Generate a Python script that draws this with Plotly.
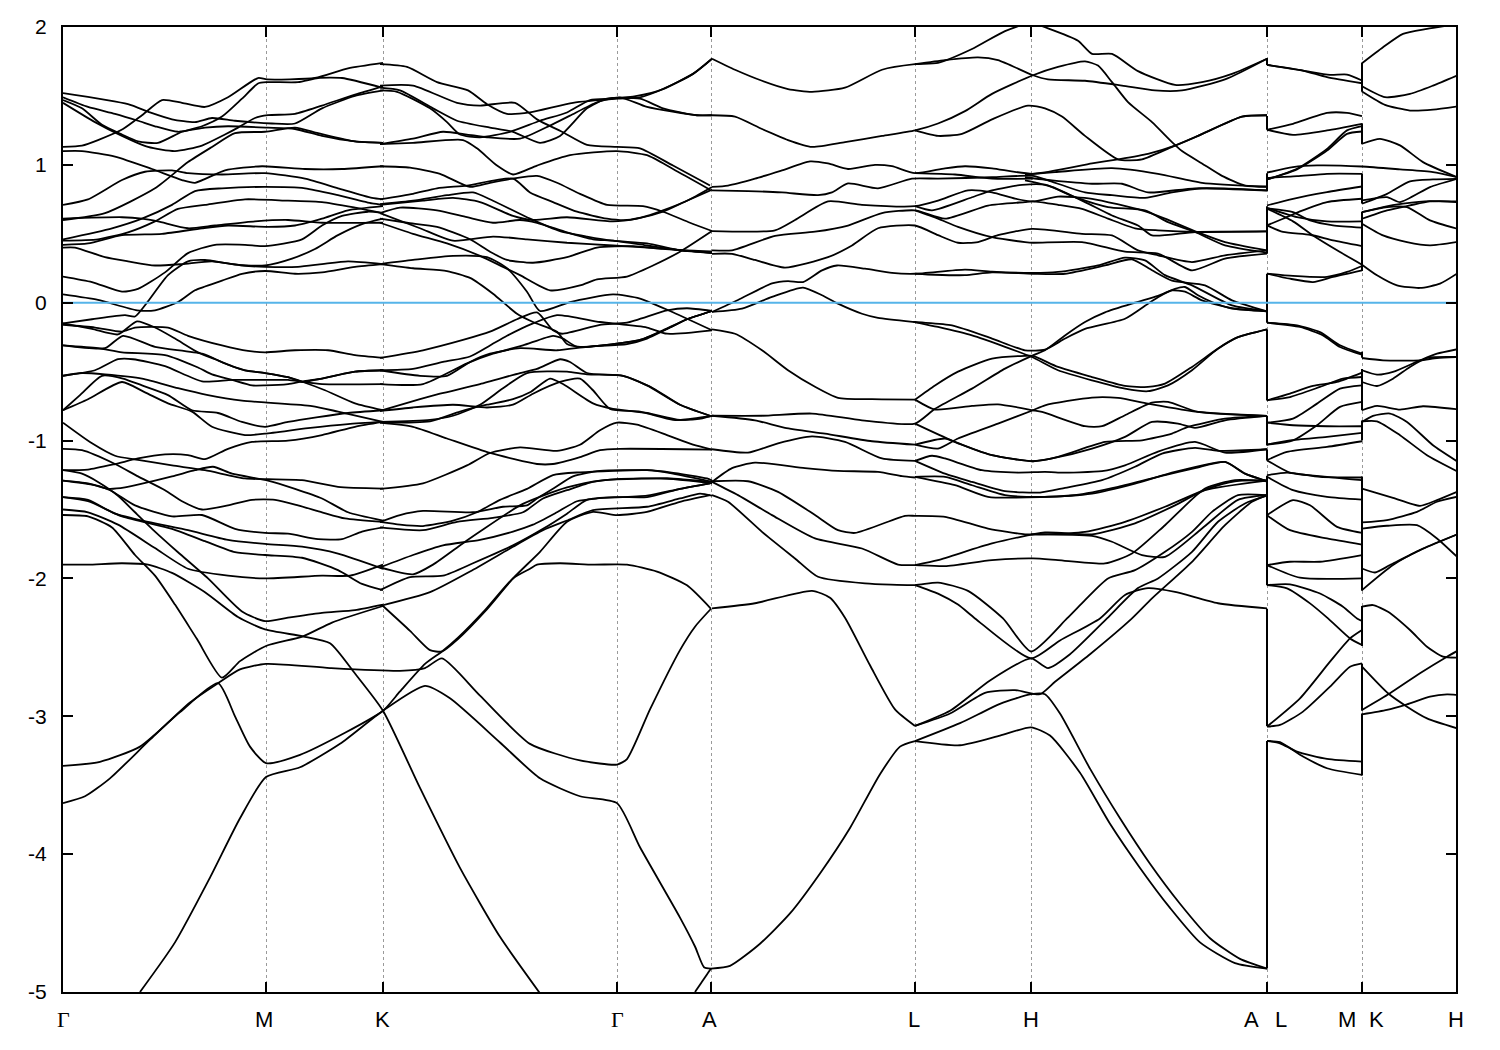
import plotly.graph_objects as go

# k = distance along the path, energies in eV
k_points = [63, 266, 383, 617, 711, 915, 1031, 1267, 1362, 1456]
energy_ticks = [-5, -4, -3, -2, -1, 0, 1, 2]
energy_labels = ["-5", "-4", "-3", "-2", "-1", "0", "1", "2"]
path_labels = [("Γ", 63), ("M", 264), ("K", 382), ("Γ", 617), ("A", 709), ("L", 914), ("H", 1031), ("A", 1251), ("L", 1281), ("M", 1347), ("K", 1376), ("H", 1456)]

bands_gamma_k = [
 [(63,1.13),(82,1.14),(98,1.18),(123,1.26),(142,1.36),(162,1.47),(182,1.45),(205,1.42),(228,1.49),(258,1.63),(267,1.62),(315,1.63),(348,1.70),(383,1.74)],
 [(63,1.52),(128,1.44),(150,1.38),(172,1.33),(195,1.31),(212,1.34),(235,1.32),(272,1.30),(295,1.30),(322,1.41),(355,1.50),(383,1.54)],
 [(63,1.49),(88,1.42),(115,1.37),(138,1.32),(155,1.28),(178,1.24),(205,1.27),(228,1.28),(268,1.27),(295,1.26),(322,1.21),(355,1.17),(383,1.16)],
 [(63,1.47),(82,1.41),(102,1.29),(122,1.22),(138,1.17),(158,1.16),(182,1.24),(202,1.28),(222,1.35),(242,1.48),(258,1.59),(267,1.60),(298,1.60),(318,1.63),(342,1.63),(382,1.56)],
 [(63,1.45),(95,1.31),(122,1.21),(148,1.13),(175,1.10),(202,1.14),(225,1.22),(238,1.27),(255,1.34),(268,1.36),(295,1.37),(322,1.43),(355,1.51),(383,1.57)],
 [(63,1.10),(82,1.10),(115,1.06),(152,.97),(182,.89),(195,.87),(225,.96),(262,.99),(305,.97),(342,.97),(383,.99)],
 [(63,.71),(88,.75),(122,.89),(145,.95),(172,.96),(188,.94),(222,.93),(265,.94),(305,.90),(338,.83),(372,.76),(383,.75)],
 [(63,.60),(105,.65),(155,.83),(188,1.02),(212,1.13),(235,1.23),(265,1.24),(295,1.27),(318,1.23),(355,1.17),(383,1.16)],
 [(63,.61),(122,.62),(142,.61),(158,.59),(188,.54),(215,.56),(255,.59),(288,.60),(322,.58),(383,.58)],
 [(63,.46),(112,.54),(142,.61),(172,.71),(195,.81),(222,.83),(265,.84),(305,.83),(338,.78),(372,.72),(383,.71)],
 [(63,.45),(98,.46),(128,.51),(155,.59),(178,.68),(205,.71),(245,.75),(288,.74),(322,.73),(355,.69),(383,.65)],
 [(63,.42),(88,.43),(122,.49),(162,.50),(202,.54),(228,.56),(268,.55),(295,.56),(322,.61),(348,.67),(383,.70)],
 [(63,.40),(75,.40),(105,.33),(128,.30),(155,.27),(182,.28),(212,.30),(242,.27),(265,.26),(298,.26),(322,.28),(348,.30),(383,.28)],
 [(63,.19),(92,.15),(122,.08),(138,.10),(165,.22),(188,.36),(215,.42),(245,.42),(265,.41),(302,.46),(322,.56),(342,.63),(368,.66),(383,.65)],
 [(63,-.15),(92,-.12),(125,-.09),(135,-.10),(148,.01),(168,.20),(188,.30),(205,.31),(232,.28),(265,.27),(292,.32),(315,.39),(338,.49),(362,.57),(383,.61)],
 [(63,.06),(98,.02),(137,-.055),(155,-.055),(178,.005),(195,.09),(222,.16),(242,.21),(265,.23),(295,.21),(322,.22),(355,.26),(383,.28)],
 [(63,-.15),(92,-.19),(118,-.23),(137,-.135),(155,-.18),(175,-.26),(198,-.36),(215,-.41),(232,-.46),(245,-.49),(265,-.51),(288,-.54),(303,-.575),(322,-.55),(355,-.50),(383,-.49)],
 [(63,-.16),(95,-.18),(122,-.21),(135,-.18),(168,-.18),(188,-.24),(222,-.31),(248,-.35),(265,-.36),(295,-.345),(328,-.345),(355,-.38),(383,-.40)],
 [(63,-.31),(105,-.33),(123,-.24),(155,-.32),(202,-.37),(228,-.45),(245,-.49),(265,-.51),(288,-.54),(303,-.575),(325,-.635),(355,-.73),(383,-.78)],
 [(63,-.31),(98,-.33),(122,-.36),(165,-.38),(198,-.47),(212,-.52),(232,-.56),(252,-.60),(265,-.60),(288,-.59),(303,-.57),(322,-.55),(355,-.50),(383,-.49)],
 [(63,-.53),(95,-.49),(118,-.41),(133,-.41),(165,-.46),(202,-.57),(232,-.56),(265,-.56),(288,-.56),(303,-.575),(322,-.59),(383,-.59)],
 [(63,-.53),(82,-.51),(105,-.52),(142,-.55),(178,-.62),(208,-.67),(242,-.71),(267,-.725),(312,-.75),(338,-.79),(383,-.865)],
 [(63,-.78),(80,-.67),(102,-.53),(123,-.55),(142,-.60),(168,-.67),(192,-.78),(218,-.80),(242,-.865),(265,-.90),(288,-.865),(318,-.83),(348,-.80),(383,-.78)],
 [(63,-.78),(88,-.70),(122,-.575),(145,-.65),(168,-.73),(192,-.79),(212,-.90),(245,-.96),(265,-.95),(308,-.91),(348,-.88),(383,-.865)],
 [(63,-.87),(92,-1.02),(115,-1.11),(138,-1.14),(172,-1.18),(205,-1.215),(245,-1.275),(268,-1.28),(302,-1.287),(338,-1.336),(383,-1.348)],
 [(63,-1.215),(88,-1.21),(115,-1.17),(138,-1.13),(165,-1.10),(188,-1.105),(205,-1.135),(228,-1.06),(252,-1.01),(288,-1.0),(322,-.96),(355,-.90),(383,-.865)],
 [(63,-1.06),(82,-1.07),(115,-1.17),(138,-1.26),(165,-1.36),(182,-1.44),(202,-1.50),(228,-1.47),(252,-1.43),(275,-1.43),(298,-1.47),(322,-1.52),(345,-1.565),(383,-1.59)],
 [(63,-1.29),(92,-1.32),(108,-1.35),(125,-1.34),(172,-1.26),(195,-1.215),(213,-1.19),(232,-1.24),(268,-1.29),(295,-1.35),(322,-1.42),(348,-1.52),(383,-1.58)],
 [(63,-1.29),(88,-1.31),(110,-1.36),(135,-1.47),(172,-1.55),(202,-1.54),(235,-1.64),(265,-1.67),(288,-1.675),(318,-1.715),(342,-1.715),(362,-1.66),(383,-1.63)],
 [(63,-1.215),(82,-1.24),(98,-1.30),(118,-1.40),(135,-1.52),(155,-1.66),(178,-1.81),(208,-2.0),(242,-2.24),(265,-2.31),(288,-2.285),(322,-2.25),(355,-2.23),(383,-2.19)],
 [(63,-1.41),(88,-1.43),(115,-1.53),(148,-1.59),(188,-1.65),(228,-1.72),(265,-1.75),(302,-1.77),(338,-1.82),(383,-1.93)],
 [(63,-1.41),(88,-1.44),(122,-1.55),(172,-1.64),(205,-1.73),(235,-1.81),(265,-1.83),(302,-1.85),(338,-1.94),(362,-2.04),(383,-2.085)],
 [(63,-1.50),(88,-1.52),(118,-1.61),(155,-1.78),(188,-1.93),(228,-1.98),(265,-2.0),(322,-1.98),(350,-1.98),(383,-1.90)],
 [(63,-1.54),(88,-1.55),(112,-1.63),(135,-1.83),(155,-1.98),(175,-2.19),(197,-2.44),(222,-2.72),(240,-2.60),(266,-2.49),(303,-2.42),(332,-2.32),(383,-2.20)],
 [(63,-1.90),(88,-1.90),(122,-1.89),(148,-1.90),(172,-1.96),(205,-2.10),(238,-2.28),(265,-2.37),(303,-2.42),(330,-2.47),(355,-2.69),(383,-2.96),(420,-3.52),(460,-4.1),(500,-4.6),(540,-5.01)],
 [(63,-3.36),(100,-3.33),(140,-3.22),(180,-2.97),(218,-2.76),(235,-3.0),(250,-3.22),(266,-3.34),(300,-3.28),(345,-3.12),(383,-2.96),(400,-2.82),(425,-2.62),(442,-2.53),(458,-2.43),(485,-2.23),(513,-2.0),(530,-1.93),(537,-1.90),(560,-1.89),(593,-1.90),(627,-1.90),(657,-1.95),(687,-2.05),(711,-2.22)],
 [(63,-3.63),(85,-3.58),(110,-3.45),(150,-3.17),(190,-2.9),(218,-2.76),(240,-2.66),(266,-2.62),(330,-2.65),(400,-2.67),(425,-2.65),(442,-2.58),(480,-2.85),(530,-3.2),(580,-3.32),(617,-3.35),(627,-3.31),(650,-2.95),(680,-2.52),(695,-2.35),(711,-2.22)],
 [(140,-5.0),(175,-4.64),(210,-4.17),(240,-3.74),(266,-3.44),(300,-3.37),(340,-3.2),(383,-2.96),(425,-2.78),(450,-2.87),(500,-3.19),(540,-3.45),(580,-3.58),(617,-3.63),(640,-3.95),(680,-4.46),(695,-4.67),(704,-4.82),(711,-4.83)],
 [(695,-5.0),(711,-4.83)],
]

bands_k_a = [
 [(380,1.73),(407,1.71),(437,1.60),(468,1.54),(487,1.44),(507,1.37),(530,1.38),(573,1.45),(617,1.48),(640,1.49),(663,1.55),(693,1.66),(712,1.77)],
 [(380,1.575),(413,1.575),(457,1.45),(480,1.43),(515,1.45),(537,1.33),(562,1.24),(587,1.145),(617,1.13),(640,1.12),(673,.995),(710,.85)],
 [(380,1.56),(400,1.54),(433,1.41),(457,1.32),(490,1.27),(513,1.24),(540,1.16),(560,1.21),(587,1.41),(607,1.48),(640,1.48),(663,1.41),(697,1.36),(712,1.36)],
 [(380,1.54),(397,1.53),(430,1.41),(447,1.31),(460,1.22),(480,1.20),(510,1.24),(540,1.32),(567,1.38),(590,1.47),(613,1.48),(637,1.50),(663,1.55),(693,1.66),(712,1.77)],
 [(380,1.15),(413,1.19),(443,1.24),(467,1.22),(487,1.20),(520,1.19),(550,1.285),(570,1.357),(597,1.454),(620,1.49),(647,1.42),(697,1.36),(712,1.36)],
 [(380,1.15),(413,1.16),(463,1.18),(477,1.12),(497,.995),(513,.93),(537,.995),(570,1.07),(617,1.10),(647,1.07),(673,.97),(710,.82)],
 [(380,.99),(410,.98),(440,.935),(470,.84),(490,.87),(513,.90),(537,.92),(557,.87),(580,.79),(607,.71),(643,.70),(663,.66),(690,.58),(712,.52)],
 [(380,.75),(413,.79),(437,.83),(467,.85),(513,.90),(530,.80),(553,.73),(577,.66),(607,.61),(627,.60),(647,.63),(663,.67),(687,.74),(712,.84)],
 [(380,.715),(413,.74),(447,.78),(473,.80),(493,.74),(530,.61),(560,.52),(587,.48),(613,.45),(647,.43),(680,.38),(712,.37)],
 [(380,.71),(423,.74),(453,.76),(480,.73),(513,.63),(533,.60),(567,.62),(613,.59),(637,.61),(663,.66),(687,.74),(712,.82)],
 [(380,.65),(400,.69),(437,.67),(467,.62),(493,.58),(520,.60),(537,.58),(567,.51),(593,.46),(613,.45),(647,.415),(680,.38),(712,.36)],
 [(380,.61),(407,.58),(437,.55),(470,.46),(490,.37),(507,.31),(533,.29),(567,.33),(597,.40),(633,.41),(663,.39),(712,.37)],
 [(380,.65),(420,.54),(453,.45),(493,.48),(527,.46),(567,.435),(613,.415),(667,.39),(712,.36)],
 [(380,.58),(413,.50),(447,.43),(480,.34),(503,.26),(520,.20),(550,.09),(580,.125),(597,.17),(627,.19),(653,.27),(680,.37),(712,.52)],
 [(380,.28),(413,.31),(453,.34),(487,.33),(507,.25),(527,.08),(540,-.06),(570,.005),(613,.06),(640,.03),(670,-.06),(712,-.2)],
 [(380,.28),(413,.25),(447,.23),(470,.18),(493,.065),(517,-.08),(533,-.14),(557,-.21),(567,-.30),(580,-.32),(613,-.30),(640,-.27),(663,-.2),(687,-.12),(712,-.06)],
 [(380,-.40),(423,-.345),(463,-.27),(490,-.21),(517,-.12),(537,-.07),(553,-.20),(562,-.225),(600,-.16),(627,-.145),(667,-.056),(687,-.04),(712,-.06)],
 [(380,-.49),(413,-.48),(443,-.43),(470,-.39),(490,-.31),(507,-.24),(533,-.15),(557,-.09),(600,-.14),(647,-.18),(667,-.225),(712,-.2)],
 [(380,-.49),(420,-.53),(447,-.53),(470,-.43),(490,-.37),(520,-.33),(557,-.345),(587,-.32),(627,-.30),(647,-.26),(670,-.18),(687,-.12),(712,-.06)],
 [(380,-.59),(423,-.59),(467,-.44),(493,-.37),(523,-.31),(553,-.24),(563,-.26),(577,-.32),(613,-.30),(640,-.27),(670,-.18),(687,-.12),(712,-.06)],
 [(380,-.785),(420,-.70),(440,-.66),(480,-.59),(520,-.51),(537,-.48),(560,-.41),(570,-.43),(587,-.51),(623,-.53),(647,-.60),(680,-.74),(710,-.82)],
 [(380,-.785),(413,-.76),(453,-.74),(487,-.76),(513,-.74),(533,-.66),(560,-.575),(580,-.55),(593,-.635),(610,-.77),(640,-.79),(673,-.85),(697,-.845),(712,-.82)],
 [(380,-.865),(430,-.85),(453,-.82),(480,-.74),(503,-.62),(527,-.51),(567,-.50),(587,-.52),(623,-.53),(653,-.62),(680,-.74),(710,-.82)],
 [(380,-.87),(430,-.86),(460,-.79),(487,-.74),(513,-.70),(530,-.65),(550,-.55),(563,-.59),(593,-.73),(613,-.77),(647,-.80),(680,-.85),(712,-.82)],
 [(380,-.87),(413,-.90),(447,-.985),(490,-1.09),(537,-1.17),(553,-1.17),(580,-1.12),(600,-1.07),(620,-1.06),(712,-1.065)],
 [(380,-1.35),(423,-1.31),(467,-1.18),(490,-1.09),(520,-1.05),(557,-1.075),(580,-1.03),(600,-.925),(617,-.87),(637,-.885),(667,-.96),(693,-1.03),(712,-1.065)],
 [(380,-1.59),(400,-1.54),(423,-1.51),(473,-1.52),(503,-1.48),(527,-1.47),(537,-1.42),(553,-1.35),(573,-1.26),(600,-1.22),(647,-1.215),(670,-1.23),(707,-1.275),(712,-1.29)],
 [(380,-1.59),(400,-1.61),(423,-1.62),(453,-1.58),(477,-1.52),(500,-1.43),(527,-1.35),(553,-1.25),(580,-1.23),(647,-1.215),(673,-1.24),(712,-1.30)],
 [(380,-1.63),(423,-1.65),(457,-1.59),(493,-1.56),(523,-1.52),(543,-1.42),(567,-1.36),(593,-1.30),(617,-1.28),(667,-1.275),(712,-1.31)],
 [(380,-1.92),(413,-1.97),(433,-1.90),(462,-1.75),(480,-1.66),(520,-1.47),(543,-1.40),(567,-1.34),(600,-1.29),(667,-1.275),(712,-1.30)],
 [(380,-1.92),(413,-1.83),(443,-1.76),(480,-1.72),(513,-1.66),(533,-1.61),(557,-1.52),(577,-1.44),(597,-1.42),(647,-1.40),(680,-1.35),(710,-1.31)],
 [(380,-2.085),(410,-1.99),(443,-1.98),(473,-1.89),(513,-1.76),(543,-1.64),(567,-1.53),(587,-1.43),(617,-1.41),(647,-1.41),(680,-1.35),(710,-1.31)],
 [(380,-2.20),(430,-2.10),(470,-1.95),(513,-1.77),(543,-1.65),(567,-1.58),(593,-1.505),(647,-1.48),(680,-1.42),(700,-1.385),(712,-1.40)],
 [(383,-2.20),(410,-2.38),(430,-2.52),(442,-2.53),(458,-2.44),(485,-2.24),(513,-2.0),(540,-1.807),(567,-1.589),(593,-1.517),(617,-1.541),(647,-1.517),(680,-1.444),(710,-1.396)],
]

bands_a_a = [
 [(712,1.77),(735,1.69),(762,1.61),(788,1.55),(812,1.53),(845,1.56),(882,1.69),(915,1.73),(938,1.74),(972,1.84),(1005,1.97),(1031,2.03),(1048,1.99),(1078,1.90),(1092,1.805),(1112,1.805),(1138,1.68),(1175,1.58),(1202,1.60),(1232,1.66),(1267,1.77)],
 [(915,1.73),(945,1.76),(978,1.78),(998,1.76),(1033,1.65),(1048,1.62),(1085,1.61),(1122,1.575),(1155,1.54),(1182,1.54),(1225,1.62),(1267,1.77)],
 [(712,1.36),(735,1.35),(762,1.26),(788,1.18),(812,1.13),(845,1.165),(882,1.21),(915,1.25),(938,1.30),(965,1.39),(992,1.515),(1033,1.65),(1058,1.71),(1085,1.75),(1098,1.72),(1112,1.60),(1128,1.455),(1152,1.31),(1172,1.165),(1182,1.10),(1202,1.01),(1222,.92),(1245,.85),(1267,.84)],
 [(915,1.25),(938,1.21),(962,1.225),(992,1.33),(1028,1.43),(1045,1.41),(1062,1.35),(1085,1.21),(1118,1.04),(1142,1.04),(1172,1.13),(1198,1.21),(1242,1.35),(1267,1.36)],
 [(712,.84),(728,.85),(755,.90),(782,.96),(810,1.025),(828,1.01),(848,.97),(875,1.00),(892,.99),(915,.94),(945,.975),(965,.99),(992,.975),(1033,.935),(1092,1.01),(1118,1.04),(1148,1.08),(1175,1.14),(1198,1.21),(1242,1.35),(1267,1.36)],
 [(915,.94),(955,.93),(992,.90),(1033,.90)],
 [(1025,.93),(1055,.947),(1112,.976),(1158,.935),(1202,.87),(1267,.843)],
 [(1025,.91),(1052,.887),(1092,.863),(1122,.863),(1148,.80),(1195,.83),(1267,.814)],
 [(712,.815),(748,.81),(782,.80),(818,.78),(832,.80),(848,.865),(878,.83),(912,.90),(938,.90),(992,.91),(1033,.92),(1048,.887),(1085,.80),(1112,.78),(1145,.76),(1172,.80),(1202,.83),(1267,.815)],
 [(712,.52),(775,.525),(795,.60),(828,.735),(862,.71),(915,.70),(938,.74),(968,.815),(992,.80),(1015,.755),(1033,.735),(1058,.77),(1092,.754),(1142,.67),(1165,.61),(1198,.51),(1225,.44),(1267,.38)],
 [(915,.70),(932,.67),(972,.765),(992,.815),(1022,.855),(1045,.856),(1075,.766),(1108,.694),(1145,.67),(1168,.585),(1195,.513),(1225,.416),(1267,.363)],
 [(712,.38),(732,.38),(775,.485),(815,.515),(848,.56),(882,.65),(915,.67),(945,.61),(988,.705),(1025,.73),(1033,.735),(1058,.71),(1082,.68),(1108,.61),(1135,.54),(1158,.525),(1198,.513),(1267,.517)],
 [(915,.67),(938,.61),(958,.55),(992,.475),(1025,.44),(1033,.435),(1082,.44),(1125,.37),(1158,.356),(1192,.235),(1225,.32),(1267,.356)],
 [(712,.355),(732,.355),(755,.31),(785,.255),(828,.33),(852,.415),(878,.54),(915,.56),(938,.49),(958,.435),(978,.44),(998,.49),(1032,.535),(1082,.50),(1112,.488),(1138,.38),(1158,.344),(1192,.295),(1225,.344),(1267,.38)],
 [(1025,.887),(1052,.84),(1085,.73),(1112,.633),(1138,.56),(1152,.488),(1195,.513),(1267,.517)],
 [(712,-.067),(738,.02),(772,.14),(788,.157),(803,.15),(822,.235),(837,.27),(865,.247),(892,.216),(915,.21),(965,.24),(992,.225),(1033,.216),(1058,.223),(1098,.27),(1125,.327),(1145,.307),(1165,.2),(1192,.126),(1232,-.02),(1267,-.062)],
 [(915,.21),(935,.203),(965,.20),(992,.22),(1033,.21),(1065,.21),(1105,.27),(1132,.315),(1152,.235),(1172,.16),(1205,.126),(1232,.017),(1267,-.062)],
 [(712,-.067),(742,-.043),(772,.042),(803,.11),(822,.054),(838,-.007),(862,-.08),(878,-.11),(915,-.14),(952,-.164),(992,-.26),(1025,-.345),(1045,-.34),(1065,-.26),(1085,-.19),(1125,-.116),(1148,-.007),(1158,.04),(1175,.10),(1185,.114),(1198,.054),(1212,.005),(1232,-.043),(1267,-.062)],
 [(915,-.14),(938,-.176),(972,-.237),(1005,-.32),(1032,-.394),(1058,-.49),(1092,-.563),(1125,-.623),(1148,-.642),(1168,-.60),(1192,-.49),(1218,-.333),(1238,-.25),(1267,-.193)],
 [(915,-.703),(935,-.60),(958,-.50),(992,-.405),(1025,-.385),(1033,-.386),(1058,-.466),(1092,-.539),(1125,-.604),(1148,-.611),(1165,-.587),(1192,-.466),(1218,-.333),(1238,-.25),(1267,-.193)],
 [(712,-.82),(762,-.82),(812,-.804),(862,-.853),(915,-.877),(935,-.77),(972,-.623),(1005,-.478),(1033,-.382),(1045,-.345),(1065,-.237),(1085,-.14),(1105,-.07),(1135,0),(1158,.05),(1172,.09),(1185,.08),(1202,.017),(1232,-.04),(1267,-.062)],
 [(712,-.193),(735,-.225),(762,-.345),(788,-.49),(815,-.61),(838,-.69),(872,-.70),(915,-.703)],
 [(712,-.82),(755,-.853),(785,-.908),(825,-.95),(872,-1.005),(915,-1.03)],
 [(915,-.877),(952,-1.0),(992,-1.106),(1033,-1.15),(1052,-1.13),(1092,-1.058),(1125,-.973),(1152,-.865),(1178,-.877),(1195,-.908),(1225,-.853),(1267,-.821)],
 [(915,-1.03),(938,-1.058),(958,-.985),(998,-.877),(1033,-.78),(1045,-.744),(1092,-.688),(1118,-.691),(1148,-.732),(1198,-.792),(1267,-.821)],
 [(915,-.703),(935,-.775),(972,-.749),(998,-.737),(1033,-.78),(1042,-.792),(1085,-.896),(1102,-.896),(1125,-.816),(1152,-.725),(1168,-.72),(1198,-.792),(1267,-.821)],
 [(915,-1.03),(945,-.985),(958,-1.02),(992,-1.106),(1033,-1.15),(1058,-1.118),(1105,-1.01),(1142,-.998),(1172,-.949),(1188,-.901),(1225,-.841),(1267,-.821)],
 [(712,-1.063),(748,-1.087),(778,-1.02),(812,-.97),(845,-1.01),(882,-1.13),(915,-1.147)],
 [(712,-1.30),(732,-1.20),(755,-1.16),(805,-1.20),(838,-1.22),(878,-1.227),(902,-1.258),(915,-1.268)],
 [(915,-1.147),(932,-1.11),(945,-1.13),(982,-1.215),(1018,-1.232),(1045,-1.227),(1058,-1.232),(1102,-1.222),(1125,-1.18),(1158,-1.08),(1195,-1.01),(1225,-1.087),(1267,-1.063)],
 [(915,-1.147),(945,-1.24),(972,-1.30),(1005,-1.367),(1040,-1.377),(1065,-1.343),(1102,-1.287),(1135,-1.19),(1162,-1.094),(1195,-1.053),(1218,-1.075),(1267,-1.063)],
 [(915,-1.263),(945,-1.263),(972,-1.324),(1005,-1.396),(1045,-1.408),(1075,-1.396),(1118,-1.336),(1165,-1.25),(1195,-1.20),(1225,-1.155),(1245,-1.24),(1267,-1.295)],
 [(915,-1.263),(955,-1.324),(988,-1.408),(1040,-1.41),(1092,-1.384),(1135,-1.312),(1175,-1.227),(1225,-1.155),(1245,-1.24),(1267,-1.295)],
 [(712,-1.295),(748,-1.295),(778,-1.372),(815,-1.54),(838,-1.65),(855,-1.67),(905,-1.546),(915,-1.546),(945,-1.553),(988,-1.638),(1025,-1.68),(1040,-1.68),(1085,-1.662),(1125,-1.589),(1165,-1.48),(1208,-1.348),(1235,-1.295),(1267,-1.287)],
 [(915,-1.903),(938,-1.867),(992,-1.746),(1045,-1.667),(1092,-1.68),(1135,-1.60),(1175,-1.47),(1205,-1.36),(1267,-1.29)],
 [(712,-1.30),(738,-1.396),(772,-1.541),(815,-1.71),(862,-1.783),(898,-1.899),(915,-1.903),(945,-1.911),(992,-1.867),(1033,-1.855),(1058,-1.867),(1105,-1.891),(1132,-1.819),(1165,-1.614),(1205,-1.348),(1235,-1.287),(1267,-1.295)],
 [(1031,-1.68),(1092,-1.691),(1112,-1.734),(1142,-1.831),(1165,-1.843),(1202,-1.638),(1238,-1.43),(1267,-1.396)],
 [(712,-1.396),(728,-1.444),(762,-1.662),(795,-1.855),(818,-1.988),(865,-2.036),(915,-2.048),(938,-2.03),(968,-2.09),(1003,-2.29),(1031,-2.53),(1067,-2.29),(1085,-2.157),(1108,-2.0),(1135,-1.94),(1165,-1.807),(1192,-1.662),(1212,-1.517),(1238,-1.396),(1267,-1.396)],
 [(915,-2.048),(938,-2.11),(958,-2.19),(975,-2.29),(1031,-2.58),(1060,-2.45),(1100,-2.29),(1125,-2.12),(1148,-2.07),(1175,-2.097),(1218,-2.18),(1267,-2.217)],
 [(712,-2.217),(755,-2.18),(812,-2.09),(830,-2.14),(845,-2.285),(870,-2.63),(895,-2.95),(915,-3.07)],
 [(915,-3.07),(950,-2.98),(985,-2.83),(1015,-2.81),(1040,-2.84),(1055,-2.75),(1090,-2.55),(1132,-2.29),(1152,-2.145),(1192,-1.88),(1225,-1.614),(1252,-1.444),(1267,-1.396)],
 [(915,-3.07),(950,-2.96),(990,-2.74),(1031,-2.58),(1048,-2.65),(1070,-2.55),(1107,-2.29),(1138,-2.07),(1158,-2.0),(1192,-1.807),(1218,-1.589),(1245,-1.456),(1267,-1.40)],
 [(711,-4.83),(730,-4.81),(760,-4.65),(790,-4.43),(820,-4.14),(850,-3.81),(880,-3.42),(900,-3.22),(915,-3.18)],
 [(915,-3.18),(960,-3.05),(1000,-2.91),(1031,-2.84),(1045,-2.84),(1060,-2.98),(1090,-3.38),(1120,-3.74),(1150,-4.07),(1180,-4.36),(1210,-4.61),(1240,-4.76),(1267,-4.83)],
 [(915,-3.18),(960,-3.21),(1000,-3.14),(1031,-3.08),(1050,-3.14),(1080,-3.41),(1110,-3.78),(1140,-4.1),(1170,-4.39),(1200,-4.64),(1235,-4.79),(1267,-4.83)],
]

bands_l_m = [
 [(1267,1.725),(1303,1.684),(1327,1.636),(1362,1.592)],
 [(1267,1.725),(1303,1.684),(1330,1.653),(1347,1.655),(1362,1.612)],
 [(1267,1.254),(1293,1.298),(1327,1.377),(1347,1.377),(1362,1.353)],
 [(1267,1.254),(1293,1.218),(1327,1.25),(1362,1.298)],
 [(1267,.943),(1293,.984),(1317,.996),(1362,.988),(1400,.967),(1433,.947),(1457,.911)],
 [(1267,.894),(1297,.972),(1327,1.116),(1347,1.25),(1362,1.281)],
 [(1267,.894),(1297,.967),(1327,1.104),(1347,1.225),(1362,1.242)],
 [(1267,.906),(1297,.918),(1327,.935),(1362,.935)],
 [(1267,.706),(1293,.754),(1327,.802),(1362,.843)],
 [(1267,.685),(1293,.657),(1310,.597),(1333,.561),(1362,.544)],
 [(1267,.682),(1293,.59),(1313,.488),(1340,.368),(1362,.276)],
 [(1267,.561),(1283,.609),(1300,.662),(1327,.73),(1362,.754)],
 [(1267,.561),(1283,.513),(1310,.493),(1333,.452),(1362,.411)],
 [(1267,.689),(1297,.621),(1327,.59),(1362,.59)],
 [(1267,.211),(1293,.194),(1327,.187),(1347,.223),(1362,.266)],
 [(1267,.211),(1290,.174),(1313,.15),(1333,.187),(1362,.235)],
 [(1267,-.145),(1297,-.164),(1320,-.213),(1340,-.309),(1362,-.37)],
 [(1267,-.145),(1300,-.176),(1323,-.237),(1340,-.321),(1362,-.377)],
 [(1267,-.708),(1290,-.659),(1313,-.604),(1337,-.575),(1362,-.507)],
 [(1267,-.708),(1290,-.684),(1320,-.611),(1343,-.551),(1362,-.539)],
 [(1267,-.87),(1293,-.841),(1317,-.732),(1340,-.623),(1362,-.599)],
 [(1267,-.87),(1293,-.889),(1327,-.896),(1362,-.896)],
 [(1267,-1.029),(1293,-.998),(1317,-.889),(1340,-.756),(1362,-.72)],
 [(1267,-1.029),(1290,-.998),(1327,-.973),(1362,-.944)],
 [(1267,-1.142),(1287,-1.082),(1327,-1.046),(1362,-1.005)],
 [(1267,-1.142),(1290,-1.232),(1327,-1.263),(1362,-1.287)],
 [(1267,-1.251),(1287,-1.232),(1320,-1.263),(1362,-1.268)],
 [(1267,-1.263),(1293,-1.36),(1327,-1.408),(1362,-1.428)],
 [(1267,-1.541),(1293,-1.432),(1310,-1.469),(1337,-1.626),(1362,-1.669)],
 [(1267,-1.541),(1290,-1.65),(1327,-1.71),(1362,-1.754)],
 [(1267,-1.903),(1290,-1.879),(1320,-1.879),(1362,-1.831)],
 [(1267,-1.903),(1300,-1.995),(1362,-2.0)],
 [(1267,-2.048),(1290,-2.043),(1320,-2.109),(1343,-2.205),(1357,-2.29),(1362,-2.309)],
 [(1267,-2.048),(1287,-2.072),(1310,-2.181),(1328,-2.29),(1350,-2.435),(1362,-2.483)],
 [(1267,-3.075),(1300,-2.87),(1330,-2.604),(1350,-2.435),(1362,-2.374)],
 [(1267,-3.075),(1280,-3.063),(1303,-2.966),(1330,-2.785),(1350,-2.64),(1362,-2.616)],
 [(1267,-3.179),(1280,-3.196),(1297,-3.256),(1327,-3.309),(1362,-3.329)],
 [(1267,-3.179),(1280,-3.188),(1303,-3.292),(1327,-3.377),(1362,-3.425)],
]

bands_k_h = [
 [(1362,1.737),(1383,1.853),(1403,1.95),(1427,1.986),(1456,2.02)],
 [(1362,1.57),(1385,1.491),(1410,1.515),(1433,1.575),(1457,1.648)],
 [(1362,1.532),(1385,1.435),(1410,1.394),(1433,1.40),(1457,1.423)],
 [(1362,1.153),(1380,1.189),(1400,1.141),(1423,1.02),(1457,.911)],
 [(1362,.718),(1387,.79),(1410,.88),(1433,.894),(1457,.899)],
 [(1362,.742),(1387,.766),(1400,.73),(1430,.839),(1457,.899)],
 [(1362,.657),(1383,.694),(1403,.718),(1430,.737),(1457,.73)],
 [(1362,.609),(1387,.67),(1410,.706),(1430,.735),(1457,.735)],
 [(1362,.657),(1387,.694),(1407,.694),(1430,.597),(1457,.537)],
 [(1362,.573),(1383,.488),(1407,.44),(1430,.416),(1457,.44)],
 [(1362,.276),(1377,.199),(1397,.126),(1420,.107),(1440,.138),(1457,.211)],
 [(1362,-.401),(1383,-.418),(1420,-.418),(1437,-.401),(1457,-.394)],
 [(1362,-.49),(1377,-.522),(1393,-.502),(1420,-.418),(1437,-.37),(1457,-.338)],
 [(1362,-.575),(1377,-.604),(1393,-.551),(1410,-.466),(1427,-.401),(1457,-.394)],
 [(1362,-.78),(1377,-.749),(1400,-.775),(1423,-.751),(1457,-.773)],
 [(1362,-.865),(1373,-.821),(1390,-.804),(1407,-.865),(1433,-1.034),(1457,-1.15)],
 [(1362,-.86),(1377,-.86),(1400,-.961),(1427,-1.106),(1457,-1.222)],
 [(1362,-1.348),(1393,-1.415),(1420,-1.473),(1437,-1.432),(1457,-1.372)],
 [(1362,-1.594),(1387,-1.577),(1417,-1.517),(1437,-1.444),(1457,-1.408)],
 [(1362,-1.638),(1387,-1.618),(1417,-1.614),(1437,-1.71),(1457,-1.843)],
 [(1362,-1.928),(1375,-1.957),(1390,-1.903),(1420,-1.795),(1457,-1.681)],
 [(1362,-2.085),(1393,-1.903),(1423,-1.783),(1457,-1.681)],
 [(1362,-2.205),(1373,-2.193),(1388,-2.242),(1410,-2.374),(1427,-2.495),(1443,-2.568),(1457,-2.575)],
 [(1362,-2.64),(1388,-2.833),(1407,-2.93),(1427,-3.015),(1457,-3.087)],
 [(1362,-2.954),(1390,-2.833),(1420,-2.688),(1447,-2.568),(1457,-2.527)],
 [(1362,-2.986),(1387,-2.954),(1407,-2.913),(1430,-2.858),(1447,-2.841),(1457,-2.845)],
]

# energy spans of the joins at the two path discontinuities
joins_a_l = [(1.775,1.725),(1.355,1.255),(.94,.81),(.70,.355),(.21,-.145),(-.195,-.71),(-.82,-1.035),(-1.065,-1.145),(-1.255,-2.05),(-2.22,-3.07),(-3.18,-4.83)]
joins_m_k = [(1.74,1.53),(1.30,1.15),(.935,.72),(.66,.23),(-.355,-.40),(-.48,-.78),(-.855,-1.0),(-1.26,-2.09),(-2.2,-2.49),(-2.62,-2.96),(-2.98,-3.43)]

BLACK = "#000000"
fig = go.Figure()
for group in (bands_gamma_k, bands_k_a, bands_a_a, bands_l_m, bands_k_h):
    for band in group:
        fig.add_trace(go.Scatter(
            x=[p[0] for p in band], y=[p[1] for p in band], mode="lines",
            line=dict(color=BLACK, width=1.8, shape="spline", smoothing=0.6),
            hoverinfo="skip", showlegend=False))
for pos, joins in ((k_points[7], joins_a_l), (k_points[8], joins_m_k)):
    xs, ys = [], []
    for a, b in joins:
        xs += [pos, pos, None]
        ys += [a, b, None]
    fig.add_trace(go.Scatter(x=xs, y=ys, mode="lines", line=dict(color=BLACK, width=2),
                             hoverinfo="skip", showlegend=False))
fig.add_trace(go.Scatter(x=[k_points[0], k_points[-1]], y=[0, 0], mode="lines",
                         line=dict(color="#56B4E9", width=2), hoverinfo="skip", showlegend=False))

for text, pos in path_labels:
    fig.add_annotation(x=pos, y=-0.029, xref="x", yref="paper", text=text, showarrow=False,
                       xanchor="center", yanchor="middle",
                       font=dict(size=22, color=BLACK,
                                 family="Liberation Serif" if text == "Γ" else "Liberation Sans"))

fig.update_layout(
    width=1484, height=1034, autosize=False,
    margin=dict(l=55, r=36, t=19, b=50, pad=0),
    paper_bgcolor="white", plot_bgcolor="white",
    font=dict(family="Liberation Sans", size=21, color=BLACK),
    xaxis=dict(automargin=False, range=[k_points[0], k_points[-1]], tickmode="array", tickvals=k_points,
               ticktext=[""] * len(k_points), ticks="inside", ticklen=10, tickwidth=2, tickcolor=BLACK,
               showline=True, linecolor=BLACK, linewidth=2, mirror="ticks",
               showgrid=True, gridcolor="#9a9a9a", griddash="dot", gridwidth=1, zeroline=False),
    yaxis=dict(automargin=False, range=[-5, 2], tickmode="array", tickvals=energy_ticks, ticktext=energy_labels,
               ticks="inside", ticklen=10, tickwidth=2, tickcolor=BLACK,
               showline=True, linecolor=BLACK, linewidth=2, mirror="ticks",
               showgrid=False, zeroline=False, ticklabelstandoff=10),
)
fig.write_html("out.html")
